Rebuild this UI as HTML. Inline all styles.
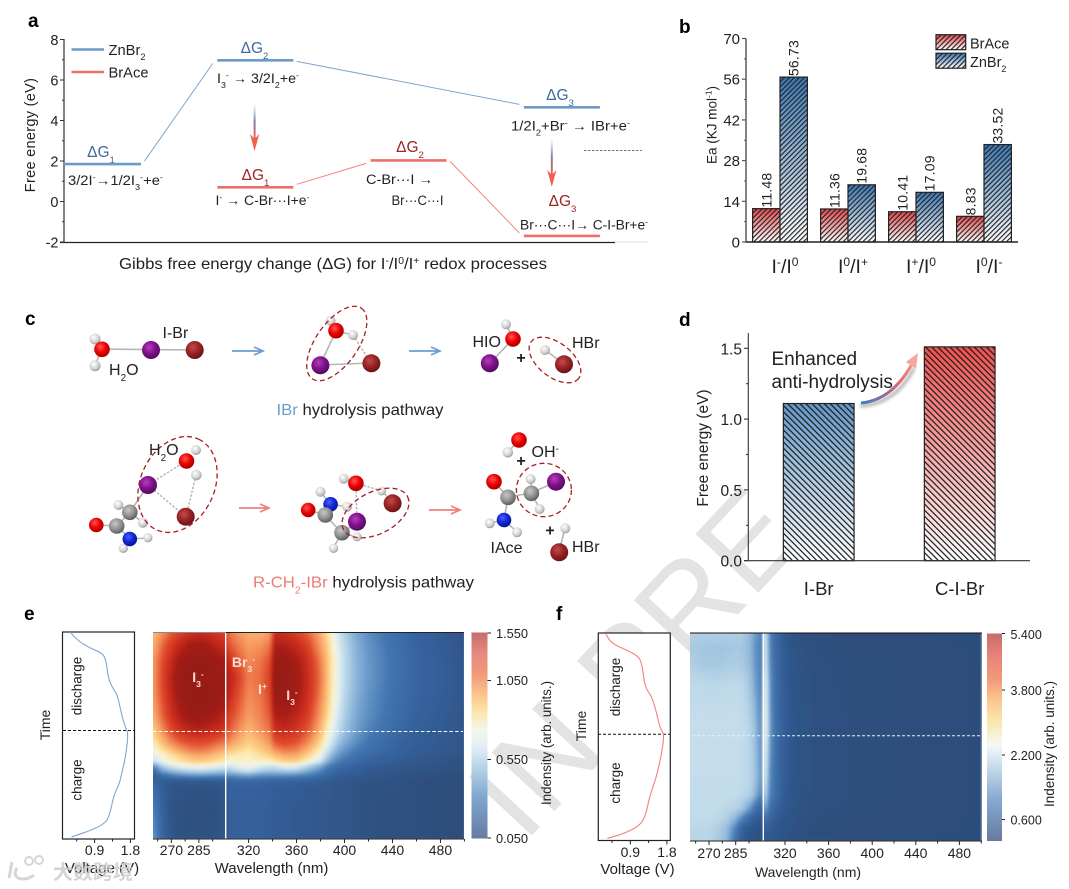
<!DOCTYPE html>
<html lang="en">
<head>
<meta charset="utf-8">
<title>Multi-panel figure: free energy, activation energy, hydrolysis pathways, in-situ UV-vis</title>
<style>
html,body{margin:0;padding:0;background:#fff;width:1069px;height:889px;overflow:hidden;}
svg{display:block;overflow:hidden;font-family:"Liberation Sans","Noto Sans CJK SC",sans-serif;}
text{fill:#222;}
.sub{font-size:.62em;baseline-shift:sub;}
.sup{font-size:.62em;baseline-shift:super;}
.tick{font-size:14px;}
.plab{font-size:19px;font-weight:bold;fill:#000;}
.rx{font-size:13.5px;}
</style>
</head>
<body>
<svg id="figure" xmlns="http://www.w3.org/2000/svg" width="1069" height="889" viewBox="0 0 1069 889">
<defs>
  <linearGradient id="gradRedBar" x1="0" y1="0" x2="0" y2="1"><stop offset="0" stop-color="#e5464a"/><stop offset="1" stop-color="#ffffff"/></linearGradient>
  <linearGradient id="gradBlueBar" x1="0" y1="0" x2="0" y2="1"><stop offset="0" stop-color="#3a78b6"/><stop offset="1" stop-color="#ffffff"/></linearGradient>
  <linearGradient id="gradBlueD" x1="0" y1="0" x2="0" y2="1"><stop offset="0" stop-color="#6398c8"/><stop offset="1" stop-color="#ffffff"/></linearGradient>
  <linearGradient id="gradRedD" x1="0" y1="0" x2="0" y2="1"><stop offset="0" stop-color="#ee5150"/><stop offset="1" stop-color="#ffffff"/></linearGradient>
  <linearGradient id="gradDown" x1="0" y1="0" x2="0" y2="1"><stop offset="0" stop-color="#7fa3cc" stop-opacity=".1"/><stop offset=".45" stop-color="#8a7f9e"/><stop offset="1" stop-color="#f0604c"/></linearGradient>
  <linearGradient id="gradCurve" gradientUnits="userSpaceOnUse" x1="862" y1="403" x2="918" y2="354"><stop offset="0" stop-color="#3f7fc0"/><stop offset=".35" stop-color="#a06a90"/><stop offset=".6" stop-color="#e86a6a"/><stop offset="1" stop-color="#f7a8a0"/></linearGradient>
  <linearGradient id="cbarE" x1="0" y1="0" x2="0" y2="1">
    <stop offset="0" stop-color="#c06e6a"/><stop offset=".1" stop-color="#e88880"/><stop offset=".2" stop-color="#ef9a78"/><stop offset=".3" stop-color="#fbc48c"/><stop offset=".38" stop-color="#fbe4a8"/><stop offset=".47" stop-color="#f4f6e8"/><stop offset=".55" stop-color="#e4f0f4"/><stop offset=".64" stop-color="#bcd8e8"/><stop offset=".8" stop-color="#7ea6d0"/><stop offset="1" stop-color="#677ba0"/>
  </linearGradient>
  <linearGradient id="cbarF" x1="0" y1="0" x2="0" y2="1">
    <stop offset="0" stop-color="#c46c68"/><stop offset=".1" stop-color="#e8807a"/><stop offset=".22" stop-color="#f09a78"/><stop offset=".32" stop-color="#fbc68e"/><stop offset=".42" stop-color="#fbe6ac"/><stop offset=".54" stop-color="#f4f8f6"/><stop offset=".62" stop-color="#cfe2ee"/><stop offset=".8" stop-color="#85aad2"/><stop offset="1" stop-color="#68799e"/>
  </linearGradient>
  <pattern id="hatchB" width="3.5" height="3.5" patternUnits="userSpaceOnUse" patternTransform="rotate(45)"><rect width="1.15" height="3.5" fill="#222"/></pattern>
  <pattern id="hatchD" width="4.3" height="4.3" patternUnits="userSpaceOnUse" patternTransform="rotate(-45)"><rect width="1.2" height="4.3" fill="#1a1a1a"/></pattern>
  <radialGradient id="atomO" cx=".4" cy=".35" r=".7"><stop offset="0" stop-color="#ff5a5a"/><stop offset=".5" stop-color="#ee0000"/><stop offset="1" stop-color="#a00000"/></radialGradient>
  <radialGradient id="atomI" cx=".4" cy=".35" r=".7"><stop offset="0" stop-color="#b040b8"/><stop offset=".5" stop-color="#82108c"/><stop offset="1" stop-color="#4c0a58"/></radialGradient>
  <radialGradient id="atomBr" cx=".4" cy=".35" r=".7"><stop offset="0" stop-color="#c24a4a"/><stop offset=".5" stop-color="#9a2424"/><stop offset="1" stop-color="#5e1212"/></radialGradient>
  <radialGradient id="atomH" cx=".4" cy=".35" r=".75"><stop offset="0" stop-color="#ffffff"/><stop offset=".6" stop-color="#cfcfcf"/><stop offset="1" stop-color="#808080"/></radialGradient>
  <radialGradient id="atomC" cx=".4" cy=".35" r=".75"><stop offset="0" stop-color="#c8c8c8"/><stop offset=".55" stop-color="#8c8c8c"/><stop offset="1" stop-color="#4a4a4a"/></radialGradient>
  <radialGradient id="atomN" cx=".4" cy=".35" r=".7"><stop offset="0" stop-color="#4a60ff"/><stop offset=".5" stop-color="#1028d8"/><stop offset="1" stop-color="#081480"/></radialGradient>
  <filter id="soft" x="-10%" y="-60%" width="120%" height="220%"><feGaussianBlur stdDeviation="1.6"/></filter>
  <filter id="heatBlur" x="-5%" y="-5%" width="110%" height="110%"><feGaussianBlur stdDeviation="1"/></filter>
  <clipPath id="clipE"><rect x="153" y="632.5" width="311" height="206.5"/></clipPath>
  <clipPath id="clipF"><rect x="690" y="633" width="292" height="208"/></clipPath>
  <clipPath id="clipWatermark"><polygon points="558,301 1069,778 1069,889 0,889 0,301"/></clipPath>
</defs>

<!-- background watermark -->
<g clip-path="url(#clipWatermark)">
<text id="watermark" x="524" y="844" transform="rotate(-47 524 844)" style="font-size:125px;fill:#e3e3e3;">IN PRESS</text>
</g>

<!-- panel a -->
<g id="panel-a">
  <text class="plab" x="28" y="27">a</text>
  <line x1="64" y1="39" x2="64" y2="242" stroke="#333" stroke-width="1.2"/>
  <line x1="60" y1="242.5" x2="615" y2="242.5" stroke="#222" stroke-width="1.3"/>
  <line x1="615" y1="242" x2="648" y2="242" stroke="#ddd" stroke-width="1"/>
  <text transform="translate(35 135) rotate(-90)" text-anchor="middle" style="font-size:14.5px;letter-spacing:.3px">Free energy (eV)</text>
  <line x1="71.5" y1="49.5" x2="104" y2="49.5" stroke="#6b9ac8" stroke-width="2.6"/>
  <line x1="71.5" y1="72" x2="104" y2="72" stroke="#ee6e6a" stroke-width="2.6"/>
  <text x="108.5" y="55" style="font-size:15px" textLength="37" lengthAdjust="spacingAndGlyphs">ZnBr<tspan class="sub">2</tspan></text>
  <text x="108.5" y="77.5" style="font-size:15px" textLength="40" lengthAdjust="spacingAndGlyphs">BrAce</text>
  <g style="font-size:15.5px;" fill="#3f6a9c">
    <text x="101" y="157" text-anchor="middle" style="fill:#3f6a9c">ΔG<tspan class="sub">1</tspan></text>
    <text x="254.5" y="53" text-anchor="middle" style="fill:#3f6a9c">ΔG<tspan class="sub">2</tspan></text>
    <text x="560" y="100" text-anchor="middle" style="fill:#3f6a9c">ΔG<tspan class="sub">3</tspan></text>
    <text x="255.5" y="180" text-anchor="middle" style="fill:#a02424">ΔG<tspan class="sub">1</tspan></text>
    <text x="410" y="152" text-anchor="middle" style="fill:#a02424">ΔG<tspan class="sub">2</tspan></text>
    <text x="562.5" y="206" text-anchor="middle" style="fill:#a02424">ΔG<tspan class="sub">3</tspan></text>
  </g>
  <text class="rx" x="68" y="185" textLength="95" lengthAdjust="spacingAndGlyphs">3/2I<tspan class="sup">-</tspan>→1/2I<tspan class="sub">3</tspan><tspan class="sup">-</tspan>+e<tspan class="sup">-</tspan></text>
  <text class="rx" x="217" y="83" textLength="82" lengthAdjust="spacingAndGlyphs">I<tspan class="sub">3</tspan><tspan class="sup">-</tspan> → 3/2I<tspan class="sub">2</tspan>+e<tspan class="sup">-</tspan></text>
  <text class="rx" x="511" y="130.5" textLength="119" lengthAdjust="spacingAndGlyphs">1/2I<tspan class="sub">2</tspan>+Br<tspan class="sup">-</tspan> → IBr+e<tspan class="sup">-</tspan></text>
  <text class="rx" x="215.5" y="205" textLength="94" lengthAdjust="spacingAndGlyphs">I<tspan class="sup">-</tspan> → C-Br···I+e<tspan class="sup">-</tspan></text>
  <text class="rx" x="366" y="184" textLength="67" lengthAdjust="spacingAndGlyphs">C-Br···I →</text>
  <text class="rx" x="391.5" y="205" textLength="52" lengthAdjust="spacingAndGlyphs">Br···C···I</text>
  <text class="rx" x="520" y="229.5" textLength="128" lengthAdjust="spacingAndGlyphs">Br···C···I→ C-I-Br+e<tspan class="sup">-</tspan></text>
  <text x="119" y="269" style="font-size:16px" textLength="428" lengthAdjust="spacingAndGlyphs">Gibbs free energy change (ΔG) for I<tspan class="sup">-</tspan>/I<tspan class="sup">0</tspan>/I<tspan class="sup">+</tspan> redox processes</text>
  <g><rect x="253.6" y="105" width="2" height="36" fill="url(#gradDown)"/><path d="M254.6 151 L250 134 L254.6 139 L259.2 134 Z" fill="#f0604c"/></g>
  <g><rect x="550.8" y="140" width="2" height="37" fill="url(#gradDown)"/><path d="M551.8 187 L547.2 170 L551.8 175 L556.4 170 Z" fill="#f0604c"/></g>
  <line x1="584" y1="150.5" x2="642" y2="150.5" stroke="#777" stroke-width="1" stroke-dasharray="2.6 1.4"/>
  <g id="a-marks"></g>
</g>

<!-- panel b -->
<g id="panel-b">
  <text class="plab" x="679" y="33">b</text>
  <text transform="translate(716.5 125) rotate(-90)" text-anchor="middle" style="font-size:13.5px">Ea (KJ mol<tspan class="sup">-1</tspan>)</text>
  <g>
    <rect x="936" y="34.7" width="29.7" height="15" fill="url(#gradRedBar)" stroke="none"/><rect x="936" y="34.7" width="29.7" height="15" fill="url(#hatchB)" stroke="#222" stroke-width="1.2"/>
    <text x="970" y="48.5" style="font-size:14.5px">BrAce</text>
  </g>
  <g>
    <rect x="936" y="53.2" width="29.7" height="15" fill="url(#gradBlueBar)" stroke="none"/><rect x="936" y="53.2" width="29.7" height="15" fill="url(#hatchB)" stroke="#222" stroke-width="1.2"/>
    <text x="970" y="67" style="font-size:14.5px">ZnBr<tspan class="sub">2</tspan></text>
  </g>
  <g id="b-marks"></g>
</g>

<!-- panel c -->
<g id="panel-c">
  <text class="plab" x="25" y="325">c</text>
  <g stroke="#b5b5b5" stroke-width="1.6">
    <line x1="102" y1="349" x2="194" y2="350"/><line x1="102" y1="349" x2="95" y2="339"/><line x1="102" y1="349" x2="95" y2="365"/>
    <line x1="336" y1="331" x2="320" y2="365"/><line x1="320" y1="365" x2="371" y2="363"/><line x1="336" y1="331" x2="331" y2="321"/><line x1="336" y1="331" x2="353" y2="335"/>
    <line x1="513" y1="339" x2="490" y2="363"/><line x1="513" y1="339" x2="506" y2="324"/><line x1="545" y1="350" x2="564" y2="364"/>
    <line x1="148" y1="485" x2="130" y2="512"/><line x1="130" y1="512" x2="117" y2="526"/><line x1="117" y1="526" x2="96" y2="525"/><line x1="117" y1="526" x2="130" y2="539"/><line x1="130" y1="512" x2="118" y2="505"/><line x1="130" y1="512" x2="143" y2="523"/><line x1="130" y1="539" x2="148" y2="538"/><line x1="130" y1="539" x2="123" y2="548"/>
    <line x1="356" y1="483" x2="344" y2="479"/><line x1="308" y1="510" x2="325" y2="515"/><line x1="325" y1="515" x2="331" y2="504"/><line x1="331" y1="504" x2="320" y2="492"/><line x1="331" y1="504" x2="347" y2="507"/><line x1="325" y1="515" x2="342" y2="533"/><line x1="342" y1="533" x2="357" y2="522"/><line x1="342" y1="533" x2="357" y2="537"/><line x1="342" y1="533" x2="333" y2="548"/>
    <line x1="519" y1="440" x2="508" y2="452"/><line x1="494" y1="482" x2="508" y2="497"/><line x1="508" y1="497" x2="531" y2="493"/><line x1="531" y1="493" x2="556" y2="482"/><line x1="531" y1="493" x2="531" y2="479"/><line x1="531" y1="493" x2="540" y2="509"/><line x1="508" y1="497" x2="504" y2="520"/><line x1="504" y1="520" x2="490" y2="523"/><line x1="504" y1="520" x2="517" y2="532"/>
    <line x1="565" y1="528" x2="559" y2="552"/>
  </g>
  <g stroke="#b0b0b0" stroke-width="1.4" stroke-dasharray="2.4 1.6">
    <line x1="353" y1="335" x2="371" y2="363"/>
    <line x1="186" y1="461" x2="148" y2="485"/><line x1="148" y1="485" x2="186" y2="517"/><line x1="196" y1="475" x2="186" y2="517"/>
    <line x1="356" y1="483" x2="357" y2="522"/><line x1="356" y1="483" x2="382" y2="491"/><line x1="382" y1="491" x2="393" y2="503"/>
  </g>
  <g id="atoms">
    <circle cx="95" cy="339" r="5.5" fill="url(#atomH)"/>
    <circle cx="95" cy="365.7" r="5.5" fill="url(#atomH)"/>
    <circle cx="102" cy="349.3" r="7.8" fill="url(#atomO)"/>
    <circle cx="151" cy="350" r="9" fill="url(#atomI)"/>
    <circle cx="194.7" cy="350" r="9" fill="url(#atomBr)"/>
    <circle cx="330.6" cy="320.7" r="5" fill="url(#atomH)"/>
    <circle cx="336" cy="330.7" r="7.8" fill="url(#atomO)"/>
    <circle cx="353" cy="335" r="5" fill="url(#atomH)"/>
    <circle cx="320.4" cy="365.3" r="9" fill="url(#atomI)"/>
    <circle cx="371.4" cy="363.3" r="9" fill="url(#atomBr)"/>
    <circle cx="506" cy="324.3" r="5" fill="url(#atomH)"/>
    <circle cx="513" cy="339" r="7.8" fill="url(#atomO)"/>
    <circle cx="489.8" cy="363.3" r="9" fill="url(#atomI)"/>
    <circle cx="545" cy="350" r="5" fill="url(#atomH)"/>
    <circle cx="564" cy="364.3" r="9" fill="url(#atomBr)"/>
    <circle cx="196" cy="450" r="5" fill="url(#atomH)"/>
    <circle cx="186.5" cy="461" r="7.8" fill="url(#atomO)"/>
    <circle cx="196.3" cy="475" r="5.3" fill="url(#atomH)"/>
    <circle cx="148" cy="485" r="9" fill="url(#atomI)"/>
    <circle cx="185.7" cy="516.7" r="9" fill="url(#atomBr)"/>
    <circle cx="118.4" cy="505" r="5" fill="url(#atomH)"/>
    <circle cx="142.9" cy="522.7" r="5" fill="url(#atomH)"/>
    <circle cx="129.8" cy="512.3" r="7.8" fill="url(#atomC)"/>
    <circle cx="116.7" cy="526" r="7.8" fill="url(#atomC)"/>
    <circle cx="96.3" cy="525" r="7.3" fill="url(#atomO)"/>
    <circle cx="147.8" cy="537.7" r="4.7" fill="url(#atomH)"/>
    <circle cx="123.3" cy="548.3" r="4.7" fill="url(#atomH)"/>
    <circle cx="129.8" cy="539" r="7.3" fill="url(#atomN)"/>
    <circle cx="343.7" cy="478.7" r="5" fill="url(#atomH)"/>
    <circle cx="355.9" cy="483.3" r="7.8" fill="url(#atomO)"/>
    <circle cx="381.6" cy="491" r="4.5" fill="url(#atomH)"/>
    <circle cx="392.6" cy="503.3" r="9" fill="url(#atomBr)"/>
    <circle cx="320.4" cy="491.7" r="5" fill="url(#atomH)"/>
    <circle cx="347" cy="506.7" r="5" fill="url(#atomH)"/>
    <circle cx="308.2" cy="510" r="7.3" fill="url(#atomO)"/>
    <circle cx="330.6" cy="504.3" r="7.3" fill="url(#atomN)"/>
    <circle cx="325.3" cy="515" r="7.8" fill="url(#atomC)"/>
    <circle cx="342" cy="532.7" r="7.8" fill="url(#atomC)"/>
    <circle cx="357" cy="536.7" r="4.7" fill="url(#atomH)"/>
    <circle cx="357" cy="521.7" r="9" fill="url(#atomI)"/>
    <circle cx="333.5" cy="548.3" r="4.7" fill="url(#atomH)"/>
    <circle cx="519" cy="440" r="7.8" fill="url(#atomO)"/>
    <circle cx="507.8" cy="452.3" r="5.3" fill="url(#atomH)"/>
    <circle cx="494" cy="481.7" r="7.8" fill="url(#atomO)"/>
    <circle cx="530.6" cy="479" r="5" fill="url(#atomH)"/>
    <circle cx="539.6" cy="509" r="5" fill="url(#atomH)"/>
    <circle cx="508" cy="497.3" r="7.8" fill="url(#atomC)"/>
    <circle cx="531.4" cy="493.3" r="7.8" fill="url(#atomC)"/>
    <circle cx="556" cy="481.7" r="9" fill="url(#atomI)"/>
    <circle cx="489.8" cy="523.3" r="5" fill="url(#atomH)"/>
    <circle cx="517" cy="532.3" r="5" fill="url(#atomH)"/>
    <circle cx="504" cy="520" r="7.3" fill="url(#atomN)"/>
    <circle cx="565.3" cy="528.3" r="5" fill="url(#atomH)"/>
    <circle cx="559.2" cy="552.3" r="9" fill="url(#atomBr)"/>
  </g>
  <g fill="none" stroke="#a81e22" stroke-width="1.3" stroke-dasharray="5 3.2">
    <ellipse cx="336.8" cy="343.5" rx="43" ry="21" transform="rotate(-55 336.8 343.5)"/>
    <ellipse cx="555" cy="360" rx="30" ry="17" transform="rotate(38 555 360)"/>
    <ellipse cx="177.5" cy="484.5" rx="50" ry="37" transform="rotate(-65 177.5 484.5)"/>
    <ellipse cx="375.5" cy="513" rx="36" ry="21" transform="rotate(-27 375.5 513)"/>
    <ellipse cx="543.9" cy="490" rx="27.5" ry="26.7"/>
  </g>
  <g>
    <line x1="233" y1="354" x2="266" y2="354" stroke="#999" stroke-width="3" filter="url(#soft)"/>
    <line x1="410" y1="354" x2="443" y2="354" stroke="#999" stroke-width="3" filter="url(#soft)"/>
    <path d="M232 351 H262 M254 347 L263 351 L254 355" fill="none" stroke="#6d9ecb" stroke-width="1.7"/>
    <path d="M409 351 H439 M431 347 L440 351 L431 355" fill="none" stroke="#6d9ecb" stroke-width="1.7"/>
    <line x1="240" y1="511" x2="272" y2="511" stroke="#bbb" stroke-width="3" filter="url(#soft)"/>
    <line x1="430" y1="513" x2="462" y2="513" stroke="#bbb" stroke-width="3" filter="url(#soft)"/>
    <path d="M239 508 H268 M260 504 L269 508 L260 512" fill="none" stroke="#f08078" stroke-width="1.7"/>
    <path d="M429 510 H459 M451 506 L460 510 L451 514" fill="none" stroke="#f08078" stroke-width="1.7"/>
  </g>
  <g style="font-size:16px">
    <text x="162.5" y="338">I-Br</text>
    <text x="109" y="375">H<tspan class="sub">2</tspan>O</text>
    <text x="472.5" y="347">HIO</text>
    <text x="572" y="348">HBr</text>
    <text x="149" y="455">H<tspan class="sub">2</tspan>O</text>
    <text x="531.5" y="457">OH<tspan class="sup">-</tspan></text>
    <text x="490.5" y="553">IAce</text>
    <text x="572" y="552">HBr</text>
    <text x="521" y="363" text-anchor="middle" style="font-weight:bold">+</text>
    <text x="521" y="466" text-anchor="middle" style="font-weight:bold">+</text>
    <text x="550" y="535.5" text-anchor="middle" style="font-weight:bold">+</text>
  </g>
  <text x="276.5" y="415" style="font-size:16px" textLength="167" lengthAdjust="spacingAndGlyphs"><tspan style="fill:#6d9ecb">IBr</tspan> hydrolysis pathway</text>
  <text x="253" y="587.5" style="font-size:16px" textLength="221" lengthAdjust="spacingAndGlyphs"><tspan style="fill:#ee7a74">R-CH<tspan class="sub">2</tspan>-IBr</tspan> hydrolysis pathway</text>
</g>

<!-- panel d -->
<g id="panel-d">
  <text class="plab" x="679" y="326">d</text>
  <text transform="translate(708 448) rotate(-90)" text-anchor="middle" style="font-size:15.5px">Free energy (eV)</text>
  <g id="d-marks"></g>
  <text x="771.5" y="365" style="font-size:19px">Enhanced</text>
  <text x="771.5" y="388" style="font-size:19px">anti-hydrolysis</text>
  <g>
    <path d="M860 406 Q896 404 914 368" fill="none" stroke="#aaa" stroke-width="3" filter="url(#soft)"/>
    <path d="M861 403 Q892 400 912 364" fill="none" stroke="url(#gradCurve)" stroke-width="3"/>
    <path d="M918 353 L916 369 L906 362 Z" fill="#f6a8a0"/>
  </g>
</g>

<!-- panel e -->
<g id="panel-e">
  <text class="plab" x="24" y="620">e</text>
  <rect x="62.5" y="632" width="72" height="207" fill="#fff" stroke="#222" stroke-width="1.2"/>
  <g clip-path="url(#clipE)"><g id="e-heat" filter="url(#heatBlur)"></g></g>
  <line x1="225.7" y1="632" x2="225.7" y2="839" stroke="#fff" stroke-width="1.4"/>
  <line x1="226" y1="632.5" x2="464" y2="632.5" stroke="#222" stroke-width="1"/>
  <line x1="153" y1="632.5" x2="226" y2="632.5" stroke="#888" stroke-width="1"/>
  <line x1="153" y1="731.5" x2="463" y2="731.5" stroke="#fff" stroke-width="1" stroke-dasharray="3.5 2.2"/>
  <line x1="63" y1="730.5" x2="134" y2="730.5" stroke="#111" stroke-width="1" stroke-dasharray="3 2"/>
  <g id="e-marks"></g>
  <text x="198" y="682" text-anchor="middle" style="font-size:14px;fill:#fbd9c8;font-weight:bold">I<tspan class="sub">3</tspan><tspan class="sup">-</tspan></text>
  <text x="243.5" y="667" text-anchor="middle" style="font-size:14px;fill:#fbe0d0;font-weight:bold">Br<tspan class="sub">3</tspan><tspan class="sup">-</tspan></text>
  <text x="262.5" y="694" text-anchor="middle" style="font-size:14px;fill:#fbe0d0;font-weight:bold">I<tspan class="sup">+</tspan></text>
  <text x="292" y="700" text-anchor="middle" style="font-size:14px;fill:#fbd9c8;font-weight:bold">I<tspan class="sub">3</tspan><tspan class="sup">-</tspan></text>
  <text transform="translate(81.5 686) rotate(-90)" text-anchor="middle" style="font-size:13.5px">discharge</text>
  <text transform="translate(81.5 780) rotate(-90)" text-anchor="middle" style="font-size:13.5px">charge</text>
  <text transform="translate(50 725) rotate(-90)" text-anchor="middle" style="font-size:14px">Time</text>
  <text x="102" y="873" text-anchor="middle" style="font-size:15px">Voltage (V)</text>
  <text x="271.5" y="873" text-anchor="middle" style="font-size:15px">Wavelength (nm)</text>
  <rect x="471.5" y="632.5" width="16" height="206" fill="url(#cbarE)"/>
  <g stroke="#222" stroke-width="1"><line x1="487.5" y1="633" x2="491" y2="633"/><line x1="487.5" y1="680.5" x2="491" y2="680.5"/><line x1="487.5" y1="759.5" x2="491" y2="759.5"/><line x1="487.5" y1="838" x2="491" y2="838"/></g>
  <g class="tick" style="font-size:12.8px">
    <text x="496" y="638">1.550</text>
    <text x="496" y="685">1.050</text>
    <text x="496" y="764">0.550</text>
    <text x="496" y="843">0.050</text>
  </g>
  <text transform="translate(551 743) rotate(-90)" text-anchor="middle" style="font-size:13.5px" textLength="124" lengthAdjust="spacingAndGlyphs">Indensity (arb. units.)</text>
</g>

<!-- panel f -->
<g id="panel-f">
  <text class="plab" x="556" y="620">f</text>
  <rect x="598.3" y="633" width="72" height="207.5" fill="#fff" stroke="#222" stroke-width="1.2"/>
  <g clip-path="url(#clipF)"><g id="f-heat" filter="url(#heatBlur)"></g></g>
  <line x1="763.3" y1="633" x2="763.3" y2="841" stroke="#fff" stroke-width="1.4"/>
  <line x1="690" y1="633" x2="982" y2="633" stroke="#111" stroke-width="1"/>
  <line x1="692" y1="735.7" x2="982" y2="735.7" stroke="#e8f2f6" stroke-width="1" stroke-dasharray="3 2"/>
  <line x1="598" y1="734.3" x2="670" y2="734.3" stroke="#111" stroke-width="1" stroke-dasharray="3 2"/>
  <g id="f-marks"></g>
  <text transform="translate(620 687) rotate(-90)" text-anchor="middle" style="font-size:13.5px">discharge</text>
  <text transform="translate(620 783) rotate(-90)" text-anchor="middle" style="font-size:13.5px">charge</text>
  <text transform="translate(586 726) rotate(-90)" text-anchor="middle" style="font-size:14px">Time</text>
  <text x="637.5" y="874" text-anchor="middle" style="font-size:15px">Voltage (V)</text>
  <text x="808" y="877" text-anchor="middle" style="font-size:14px">Wavelength (nm)</text>
  <rect x="987" y="633.5" width="15" height="207.5" fill="url(#cbarF)"/>
  <g stroke="#222" stroke-width="1"><line x1="1002" y1="633.5" x2="1005" y2="633.5"/><line x1="1002" y1="690" x2="1005" y2="690"/><line x1="1002" y1="755" x2="1005" y2="755"/><line x1="1002" y1="819.5" x2="1005" y2="819.5"/></g>
  <g class="tick" style="font-size:12.5px">
    <text x="1010.5" y="639">5.400</text>
    <text x="1010.5" y="695">3.800</text>
    <text x="1010.5" y="760">2.200</text>
    <text x="1010.5" y="824.5">0.600</text>
  </g>
  <text transform="translate(1054 744) rotate(-90)" text-anchor="middle" style="font-size:13.5px" textLength="126" lengthAdjust="spacingAndGlyphs">Indensity (arb. units.)</text>
</g>

<!-- corner logo watermark -->
<g opacity=".85">
  <path d="M12 862 l-3 16 M17 868 q-4 6 1 10 q8 3 16 -3" fill="none" stroke="#cfcfcf" stroke-width="3"/>
  <circle cx="29" cy="861" r="4" fill="none" stroke="#cfcfcf" stroke-width="2"/><circle cx="39" cy="860" r="4" fill="none" stroke="#cfcfcf" stroke-width="2"/>
  <text x="53" y="879" style="font-size:20px;fill:#cdcdcd;font-weight:bold">大数跨境</text>
</g>

<script>
/* ---------- panel a data ---------- */
var energyTicks = [8, 6, 4, 2, 0, -2];
var energyMinorTicks = [7, 5, 3, 1, -1];
var znStages = [0, 1, 3];
var znEnergies = [1.85, 6.97, 4.65];
var braceStages = [1, 2, 3];
var braceEnergies = [0.70, 2.03, -1.70];

/* ---------- panel b data ---------- */
var ecategories = ['-/0', '0/+', '+/0', '0/-'];
var eaBrace = [11.48, 11.36, 10.41, 8.83];
var eaZn = [56.73, 19.68, 17.09, 33.52];
var eaTicks = [70, 56, 42, 28, 14, 0];

/* ---------- panel d data ---------- */
var dCategories = ['I-Br', 'C-I-Br'];
var dValues = [1.11, 1.51];
var dTicks = [1.5, 1.0, 0.5, 0.0];

/* ---------- panel e / f voltage profiles ---------- */
var eTime = [0, .037, .077, .10, .134, .222, .27, .303, .375, .456, .488, .60, .65, .73, .79, .875, .92, .955, .99];
var eVoltage = [.29, .45, .77, 1.08, 1.19, 1.24, 1.35, 1.47, 1.55, 1.66, 1.75, 1.68, 1.62, 1.53, 1.38, 1.29, 1.19, .86, .32];
var fTime = [.006, .05, .082, .114, .16, .26, .307, .387, .459, .488, .58, .69, .79, .87, .925, .965, .99];
var fVoltage = [.30, .44, .81, 1.12, 1.195, 1.26, 1.43, 1.55, 1.63, 1.735, 1.67, 1.55, 1.37, 1.29, 1.155, .77, .335];
var voltageTicks = [0.9, 1.8];
var voltageMinorTicks = [0.45, 1.35];
var wavelengthTicks = [270, 285, 320, 360, 400, 440, 480];
var wavelengthMinorTicks = [262.5, 277.5, 292.5, 340, 380, 420, 460, 500];

/* ---------- panel e heatmap ---------- */
var eWavelengths = [260,265,270,275,280,285,290,295,300,303,310,320,330,338,342,350,360,370,380,385,390,395,400,410,420,440,460,500];
var eTimes = [0,.06,.14,.22,.30,.40,.48,.535,.575,.60,.625,.645,.67,.695,.72,.75,.865,1];
var eIntensity = [
[.74,.84,.95,1.02,1.08,1.1,1.08,1.05,1.0,.92,.84,.78,.78,.82,1.1,1.08,1.02,.92,.78,.68,.57,.5,.44,.35,.3,.22,.16,.1],
[.78,.92,1.04,1.14,1.25,1.3,1.25,1.15,1.08,.97,.9,.82,.84,.9,1.2,1.2,1.12,1.0,.82,.72,.6,.52,.46,.37,.31,.23,.17,.1],
[.82,.98,1.12,1.3,1.42,1.45,1.42,1.35,1.25,1.1,.98,.86,.9,.98,1.38,1.38,1.25,1.08,.88,.76,.62,.54,.47,.38,.32,.24,.17,.11],
[.82,1.0,1.18,1.4,1.5,1.52,1.5,1.42,1.35,1.2,1.05,.88,.92,1.02,1.45,1.42,1.3,1.1,.9,.76,.62,.54,.47,.38,.32,.24,.17,.11],
[.82,.98,1.15,1.35,1.5,1.52,1.5,1.42,1.3,1.15,1.0,.86,.9,1.0,1.4,1.4,1.28,1.08,.88,.75,.61,.53,.46,.37,.31,.23,.17,.11],
[.78,.93,1.08,1.22,1.35,1.4,1.35,1.25,1.15,1.02,.94,.82,.88,.96,1.22,1.25,1.15,1.02,.82,.7,.58,.5,.44,.35,.3,.22,.16,.1],
[.7,.84,.98,1.08,1.12,1.15,1.12,1.08,1.02,.96,.86,.76,.84,.9,1.08,1.1,1.05,.94,.76,.62,.54,.47,.41,.33,.27,.2,.15,.1],
[.62,.74,.85,.93,.97,.98,.97,.92,.88,.84,.78,.7,.76,.84,.96,1.0,.96,.85,.68,.56,.48,.41,.36,.29,.24,.18,.14,.1],
[.56,.64,.72,.8,.86,.88,.86,.8,.76,.72,.68,.64,.7,.76,.82,.88,.86,.74,.6,.5,.42,.35,.31,.25,.21,.17,.13,.1],
[.52,.58,.64,.7,.76,.78,.76,.72,.68,.63,.62,.61,.66,.68,.74,.78,.78,.67,.54,.45,.36,.31,.27,.22,.19,.15,.12,.09],
[.48,.56,.6,.65,.69,.71,.69,.66,.62,.58,.6,.6,.6,.62,.64,.7,.7,.58,.5,.38,.31,.26,.23,.19,.17,.14,.11,.08],
[.3,.45,.52,.55,.57,.58,.57,.55,.52,.5,.54,.57,.53,.5,.5,.55,.54,.46,.37,.29,.25,.21,.19,.16,.14,.12,.1,.08],
[.2,.34,.4,.44,.46,.47,.46,.44,.42,.42,.46,.5,.44,.42,.42,.44,.43,.36,.28,.23,.2,.17,.16,.14,.12,.1,.09,.07],
[.14,.2,.24,.27,.29,.3,.29,.28,.28,.28,.3,.32,.29,.28,.28,.28,.27,.24,.2,.18,.16,.14,.13,.12,.11,.09,.08,.06],
[.16,.14,.12,.12,.12,.12,.12,.12,.14,.17,.18,.18,.18,.17,.17,.17,.16,.15,.14,.13,.12,.11,.11,.1,.09,.08,.07,.06],
[.2,.14,.1,.09,.09,.09,.09,.09,.11,.16,.16,.16,.16,.15,.14,.14,.13,.12,.12,.11,.11,.1,.1,.09,.08,.08,.07,.06],
[.28,.16,.09,.08,.07,.07,.07,.08,.1,.15,.15,.15,.15,.14,.13,.13,.12,.12,.11,.11,.1,.1,.1,.09,.08,.07,.07,.06],
[.32,.18,.1,.08,.08,.08,.08,.09,.11,.15,.15,.15,.15,.14,.13,.13,.12,.12,.11,.11,.1,.1,.1,.09,.08,.07,.07,.06]
];

/* ---------- panel f heatmap ---------- */
var fWavelengths = [260,265,270,275,280,285,288,290,292,294,296,298,300,301,303,305,308,311,315,320,330,350,400,500];
var fTimes = [0,.07,.15,.25,.455,.695,.775,.84,.89,.935,1];
var fIntensity = [
[1.5,1.5,1.5,1.5,1.5,1.5,1.5,1.4,1.3,1.2,1.0,.9,.8,1.9,1.6,1.0,.7,.55,.42,.3,.16,.1,.08,.08],
[1.45,1.42,1.4,1.38,1.4,1.42,1.4,1.35,1.28,1.15,.95,.85,.8,1.95,1.65,1.05,.72,.56,.43,.3,.17,.11,.09,.08],
[1.5,1.45,1.42,1.42,1.45,1.48,1.45,1.4,1.3,1.18,.98,.88,.82,2.0,1.7,1.1,.75,.58,.44,.31,.18,.12,.1,.08],
[1.62,1.62,1.6,1.6,1.62,1.62,1.6,1.55,1.45,1.3,1.05,.9,.85,2.1,1.9,1.2,.8,.6,.45,.32,.2,.12,.1,.08],
[1.7,1.7,1.7,1.7,1.7,1.7,1.68,1.65,1.58,1.48,1.3,1.0,1.0,2.2,2.0,1.3,.85,.65,.48,.34,.22,.13,.1,.08],
[1.68,1.68,1.68,1.68,1.68,1.68,1.65,1.62,1.6,1.52,1.35,1.1,.95,1.95,1.65,1.05,.78,.62,.46,.33,.21,.13,.1,.08],
[1.68,1.68,1.68,1.68,1.68,1.66,1.62,1.58,1.55,1.45,1.2,.95,.85,1.6,1.4,.95,.72,.58,.44,.31,.2,.13,.1,.08],
[1.65,1.65,1.65,1.65,1.6,1.55,1.45,1.3,1.1,.9,.65,.5,.45,1.2,1.0,.7,.55,.46,.38,.28,.18,.12,.1,.08],
[1.65,1.65,1.65,1.6,1.5,1.2,.9,.7,.55,.45,.35,.3,.3,.7,.6,.5,.42,.36,.3,.24,.16,.11,.09,.08],
[1.6,1.6,1.6,1.5,1.3,.8,.5,.35,.3,.25,.22,.2,.2,.45,.4,.36,.32,.28,.24,.2,.14,.1,.09,.08],
[1.55,1.55,1.55,1.45,1.2,.6,.35,.25,.2,.15,.12,.12,.12,.3,.28,.26,.24,.22,.2,.16,.12,.1,.08,.08]
];

var NS = 'http://www.w3.org/2000/svg';
function mk(tag, attrs, parent) {
  var el = document.createElementNS(NS, tag);
  for (var k in attrs) { el.setAttribute(k, attrs[k]); }
  parent.appendChild(el);
  return el;
}
function hex2rgb(h) { return [parseInt(h.substr(1,2),16), parseInt(h.substr(3,2),16), parseInt(h.substr(5,2),16)]; }
function makeColormap(stops) {
  return function (v) {
    if (v <= stops[0][0]) { return stops[0][1]; }
    for (var i = 1; i < stops.length; i++) {
      if (v <= stops[i][0]) {
        var f = (v - stops[i-1][0]) / (stops[i][0] - stops[i-1][0]);
        var a = hex2rgb(stops[i-1][1]), b = hex2rgb(stops[i][1]);
        return 'rgb(' + Math.round(a[0]+(b[0]-a[0])*f) + ',' + Math.round(a[1]+(b[1]-a[1])*f) + ',' + Math.round(a[2]+(b[2]-a[2])*f) + ')';
      }
    }
    return stops[stops.length-1][1];
  };
}
var cmapE = makeColormap([[.05,'#2c4c78'],[.15,'#34609a'],[.25,'#4377b2'],[.35,'#7aa6d2'],[.45,'#b4d4e8'],[.52,'#dcecf2'],[.58,'#f6f4dc'],[.65,'#fde4a4'],[.72,'#fbc880'],[.80,'#f8a868'],[.88,'#f08050'],[.97,'#e05030'],[1.08,'#d03020'],[1.22,'#ac2018'],[1.36,'#9c1c18'],[1.55,'#951a16']]);
var cmapF = makeColormap([[.05,'#2c4c78'],[.3,'#305a92'],[.8,'#4c7fb8'],[1.2,'#8cb4d8'],[1.6,'#bcd8e8'],[1.9,'#d8e8f2'],[2.2,'#f2f6ee'],[2.6,'#fde9b0'],[3.0,'#fbc880'],[3.8,'#f08050'],[4.6,'#d03020'],[5.4,'#9c1c18']]);

/* ---------- panel a ---------- */
(function () {
  var g = document.getElementById('a-marks');
  function y(e) { return 201.5 - e * 20.25; }
  function xStage(i) { return 64 + 153.3 * i; }
  var levelW = 76;
  energyTicks.forEach(function (t) {
    var tk = mk('line', {x1:60, x2:64, y1:y(t), y2:y(t), stroke:'#333', 'stroke-width':1}, g);
    
    
    var lb = mk('text', {x:58.5, y:y(t)+5.5, 'text-anchor':'end', style:'font-size:14.5px'}, g);
    lb.textContent = String(t);
    
    
  });
  energyMinorTicks.forEach(function (t) {
    var tk = mk('line', {x1:62, x2:64, y1:y(t), y2:y(t), stroke:'#333', 'stroke-width':1}, g);
    
    
  });
  function series(stages, energies, color, thin, key) {
    for (var i = 0; i < stages.length; i++) {
      var x0 = xStage(stages[i]);
      var w = stages[i] === 0 ? levelW + 1 : levelW;
      var lv = mk('line', {x1:x0, x2:x0+w, y1:y(energies[i]), y2:y(energies[i]), stroke:color, 'stroke-width':2.6}, g);
      
      
      if (i > 0) {
        var px = xStage(stages[i-1]) + (stages[i-1] === 0 ? levelW + 1 : levelW);
        var c = mk('line', {x1:px+3.5, y1:y(energies[i-1]) + (energies[i] > energies[i-1] ? -3 : 1), x2:x0-4.5, y2:y(energies[i]) + (energies[i] > energies[i-1] ? 3 : -3), stroke:thin, 'stroke-width':1}, g);
        
        
      }
    }
  }
  series(znStages, znEnergies, '#6b9ac8', '#7ea6d0', 'znbr2');
  series(braceStages, braceEnergies, '#ee6e6a', '#f0827e', 'brace');
})();

/* ---------- panel b ---------- */
(function () {
  var g = document.getElementById('b-marks');
  function y(v) { return 242 - v * 2.907; }
  function xGroup(i) { return 780 + i * 68; }
  var bw = 27.4;
  eaTicks.forEach(function (t) {
    var tk = mk('line', {x1:742, x2:746, y1:y(t), y2:y(t), stroke:'#555', 'stroke-width':1.2}, g);
    
    
    var lb = mk('text', {x:740, y:y(t)+5.5, 'text-anchor':'end', style:'font-size:15px'}, g);
    lb.textContent = String(t);
    
    
    if (t < 70) {
      var mn = mk('line', {x1:744, x2:746, y1:y(t+7), y2:y(t+7), stroke:'#555', 'stroke-width':1}, g);
      
      
    }
  });
  var ax = mk('line', {x1:746, x2:746, y1:y(70), y2:y(0), stroke:'#666', 'stroke-width':1.6}, g);
  
  
  function bar(i, v, off, grad, key) {
    var x = xGroup(i) + off;
    var fillR = mk('rect', {x:x, y:y(v), width:bw, height:y(0)-y(v), fill:grad}, g);
    
    
    var hatchR = mk('rect', {x:x, y:y(v), width:bw, height:y(0)-y(v), fill:'url(#hatchB)', stroke:'#222', 'stroke-width':1.2}, g);
    
    
    var tx = x + bw/2 + 5;
    var ty = y(v) - 1;
    var lb = mk('text', {transform:'translate(' + tx + ' ' + ty + ') rotate(-90)', style:'font-size:14px;letter-spacing:.2px'}, g);
    lb.textContent = v.toFixed(2);
    
    
  }
  ecategories.forEach(function (c, i) {
    bar(i, eaBrace[i], -bw, 'url(#gradRedBar)', 'brace');
    bar(i, eaZn[i], 0, 'url(#gradBlueBar)', 'znbr2');
    var parts = c.split('/');
    var lb = mk('text', {x:xGroup(i)+5, y:273, 'text-anchor':'middle', style:'font-size:19.5px'}, g);
    
    
    lb.appendChild(document.createTextNode('I'));
    var s1 = mk('tspan', {'class':'sup'}, lb);
    s1.textContent = parts[0];
    lb.appendChild(document.createTextNode('/I'));
    var s2 = mk('tspan', {'class':'sup'}, lb);
    s2.textContent = parts[1];
  });
  var xa = mk('line', {x1:746, x2:1018, y1:y(0), y2:y(0), stroke:'#222', 'stroke-width':1.4}, g);
  
  
})();

/* ---------- panel d ---------- */
(function () {
  var g = document.getElementById('d-marks');
  function y(v) { return 560.7 - v * 141.6; }
  function xBar(i) { return 818.7 + i * 141; }
  var bw = 70.7;
  var grads = ['url(#gradBlueD)', 'url(#gradRedD)'];
  dTicks.forEach(function (t) {
    var tk = mk('line', {x1:744, x2:748.3, y1:y(t), y2:y(t), stroke:'#333', 'stroke-width':1.1}, g);
    
    
    var lb = mk('text', {x:742, y:y(t)+6, 'text-anchor':'end', style:'font-size:15.5px'}, g);
    lb.textContent = t.toFixed(1);
    
    
    if (t > 0) {
      var mn = mk('line', {x1:746, x2:748.3, y1:y(t-.25), y2:y(t-.25), stroke:'#333', 'stroke-width':1}, g);
      
      
    }
  });
  var ya = mk('line', {x1:748.3, x2:748.3, y1:333, y2:y(0), stroke:'#333', 'stroke-width':1.1}, g);
  
  
  dCategories.forEach(function (c, i) {
    var x = xBar(i) - bw/2;
    var f = mk('rect', {x:x, y:y(dValues[i]), width:bw, height:y(0)-y(dValues[i]), fill:grads[i]}, g);
    
    
    var h = mk('rect', {x:x, y:y(dValues[i]), width:bw, height:y(0)-y(dValues[i]), fill:'url(#hatchD)', stroke:'#222', 'stroke-width':1.2}, g);
    
    
    var lb = mk('text', {x:xBar(i), y:595, 'text-anchor':'middle', style:'font-size:18.5px'}, g);
    lb.textContent = c;
    
    
  });
  var xa = mk('line', {x1:744, x2:1030, y1:y(0), y2:y(0), stroke:'#333', 'stroke-width':1.2}, g);
  
  
})();

/* ---------- heatmap + voltage panels ---------- */
function drawHeatmap(heatId, cols, rows, matrix, xScale, yScale, cmap) {
  var heat = document.getElementById(heatId);
  var tile = 3;
  for (var r = 0; r < rows.length - 1; r++) {
    var ya = yScale(rows[r]), yb = yScale(rows[r+1]);
    var ny = Math.max(1, Math.ceil((yb - ya) / tile));
    for (var c = 0; c < cols.length - 1; c++) {
      var xa = xScale(cols[c]), xb = xScale(cols[c+1]);
      var nx = Math.max(1, Math.ceil((xb - xa) / tile));
      for (var iy = 0; iy < ny; iy++) {
        var fy = (iy + .5) / ny;
        for (var ix = 0; ix < nx; ix++) {
          var fx = (ix + .5) / nx;
          var v = matrix[r][c]*(1-fx)*(1-fy) + matrix[r][c+1]*fx*(1-fy) + matrix[r+1][c]*(1-fx)*fy + matrix[r+1][c+1]*fx*fy;
          var tx = xa + (xb-xa)*ix/nx, tw = (xb-xa)/nx + .7;
          var ty = ya + (yb-ya)*iy/ny, th = (yb-ya)/ny + .7;
          if (c === 0 && ix === 0) { tx -= 10; tw += 10; }
          if (r === 0 && iy === 0) { ty -= 10; th += 10; }
          var cell = mk('rect', {x:tx, y:ty, width:tw, height:th, fill:cmap(v)}, heat);
          
          
        }
      }
    }
  }
}
function drawVoltage(g, times, volts, xV, yT, color, axisY, labelY) {
  var d = '';
  for (var i = 0; i < times.length; i++) {
    var px = xV(volts[i]), py = yT(times[i]);
    if (i === 0) { d = 'M' + px + ' ' + py; }
    else {
      var qx = xV(volts[i-1]), qy = yT(times[i-1]);
      d += ' Q' + qx + ' ' + qy + ' ' + ((qx+px)/2) + ' ' + ((qy+py)/2);
    }
  }
  d += ' L' + xV(volts[volts.length-1]) + ' ' + yT(times[times.length-1]);
  var p = mk('path', {d:d, fill:'none', stroke:color, 'stroke-width':1.1}, g);
  
  
  voltageTicks.forEach(function (t) {
    var tk = mk('line', {x1:xV(t), x2:xV(t), y1:axisY, y2:axisY+4, stroke:'#222', 'stroke-width':1}, g);
    
    
    var lb = mk('text', {x:xV(t), y:labelY, 'text-anchor':'middle', style:'font-size:14px'}, g);
    lb.textContent = t.toFixed(1);
    
    
  });
  voltageMinorTicks.forEach(function (t) {
    var tk = mk('line', {x1:xV(t), x2:xV(t), y1:axisY, y2:axisY+2.5, stroke:'#222', 'stroke-width':1}, g);
    
    
  });
}
function drawWaveAxis(g, xScale, x0, x1, axisY, labelY) {
  var ax = mk('line', {x1:x0, x2:x1, y1:axisY, y2:axisY, stroke:'#222', 'stroke-width':1.1}, g);
  
  
  wavelengthTicks.forEach(function (t) {
    var tk = mk('line', {x1:xScale(t), x2:xScale(t), y1:axisY, y2:axisY+4, stroke:'#222', 'stroke-width':1}, g);
    
    
    var lb = mk('text', {x:xScale(t), y:labelY, 'text-anchor':'middle', style:'font-size:14px'}, g);
    lb.textContent = String(t);
    
    
  });
  wavelengthMinorTicks.forEach(function (t) {
    var tk = mk('line', {x1:xScale(t), x2:xScale(t), y1:axisY, y2:axisY+2.5, stroke:'#222', 'stroke-width':1}, g);
    
    
  });
}

(function () {
  function xE(w) { return w <= 300 ? 171.4 + (w-270)*1.83 : 248.6 + (w-320)*1.199; }
  function yE(t) { return 632.5 + t*206.5; }
  function vE(v) { return 94.6 + (v-.9)*39.8; }
  drawHeatmap('e-heat', eWavelengths, eTimes, eIntensity, xE, yE, cmapE);
  var g = document.getElementById('e-marks');
  drawVoltage(g, eTime, eVoltage, vE, function (t) { return 632 + t*207; }, '#7ea6d0', 839, 855);
  drawWaveAxis(g, xE, 153, 464, 839, 855);
})();
(function () {
  function xF(w) { return w <= 300.5 ? 709 + (w-270)*1.78 : 785 + (w-320)*1.09; }
  function yF(t) { return 633 + t*208; }
  function vF(v) { return 630.3 + (v-.9)*40.7; }
  drawHeatmap('f-heat', fWavelengths, fTimes, fIntensity, xF, yF, cmapF);
  var g = document.getElementById('f-marks');
  drawVoltage(g, fTime, fVoltage, vF, function (t) { return 633 + t*207.5; }, '#f0827e', 840.5, 857);
  drawWaveAxis(g, xF, 690, 982, 841, 858);
})();
</script>
</svg>
</body>
</html>
